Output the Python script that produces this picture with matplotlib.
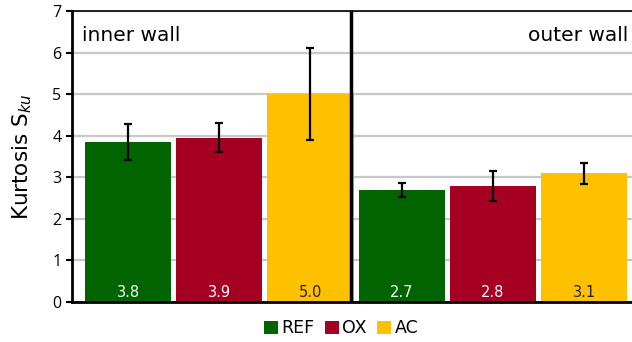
import matplotlib
matplotlib.use("Agg")
import matplotlib.pyplot as plt
from matplotlib.patches import Patch

plt.rcParams['font.family'] = ['DejaVu Sans']
plt.rcParams['mathtext.fontset'] = 'dejavusans'

groups = ["inner wall", "outer wall"]
series = ["REF", "OX", "AC"]
colors = ["#006400", "#A50021", "#FFC000"]
label_colors = ["white", "white", "#222222"]

# mean kurtosis per wall, one list per series
ref_vals = [3.85, 2.70]
ox_vals = [3.95, 2.80]
ac_vals = [5.00, 3.10]
# standard deviations
ref_err = [0.43, 0.17]
ox_err = [0.35, 0.36]
ac_err = [1.11, 0.25]
# printed values
ref_lbl = ["3.8", "2.7"]
ox_lbl = ["3.9", "2.8"]
ac_lbl = ["5.0", "3.1"]

yticks = [0, 1, 2, 3, 4, 5, 6, 7]

fig = plt.figure(figsize=(6.32, 3.42), dpi=100)
ax = fig.add_axes([72 / 632, 40 / 342, 560 / 632, 291 / 342])

vals = [ref_vals, ox_vals, ac_vals]
errs = [ref_err, ox_err, ac_err]
lbls = [ref_lbl, ox_lbl, ac_lbl]
width = 0.945

for si in range(3):
    xs = [g * 3 + si for g in range(2)]
    ax.bar(xs, vals[si], width=width, color=colors[si], zorder=2)
    ax.errorbar(xs, vals[si], yerr=errs[si], fmt="none", ecolor="black",
                elinewidth=1.6, capsize=3.2, capthick=1.6, zorder=3)
    for x, t in zip(xs, lbls[si]):
        ax.text(x, 0.24, t, ha="center", va="center", fontsize=10.5,
                color=label_colors[si], zorder=4)

ax.set_xlim(-0.614, 5.526)
ax.set_ylim(0, 7)
ax.set_yticks(yticks)
ax.set_xticks([])
ax.yaxis.grid(True, color="#c8c8c8", linewidth=1.6, zorder=0)
ax.set_axisbelow(True)
ax.tick_params(axis="y", labelsize=11.5, length=4.5, width=1.5, direction="out", pad=3)
for lab in ax.get_yticklabels():
    lab.set_fontfamily("Open Sans")

ax.spines["right"].set_visible(False)
ax.spines["top"].set_linewidth(1.2)
ax.spines["left"].set_linewidth(2)
ax.spines["bottom"].set_linewidth(2)

ax.axvline(2.44, color="black", linewidth=2.5, zorder=5)

ax.text(-0.5, 6.42, groups[0], ha="left", va="center", fontsize=14.5)
ax.text(5.48, 6.42, groups[1], ha="right", va="center", fontsize=14.5)

ax.set_ylabel(r"Kurtosis S$_{ku}$", fontsize=15.5, labelpad=13)

handles = [Patch(facecolor=c, edgecolor="none") for c in colors]
fig.legend(handles, series, loc="center", bbox_to_anchor=(0.54, 0.04),
           ncol=3, frameon=False, fontsize=12.5, handlelength=0.8,
           handleheight=0.8, handletextpad=0.2, columnspacing=0.6)

fig.savefig("out.png", dpi=100)
